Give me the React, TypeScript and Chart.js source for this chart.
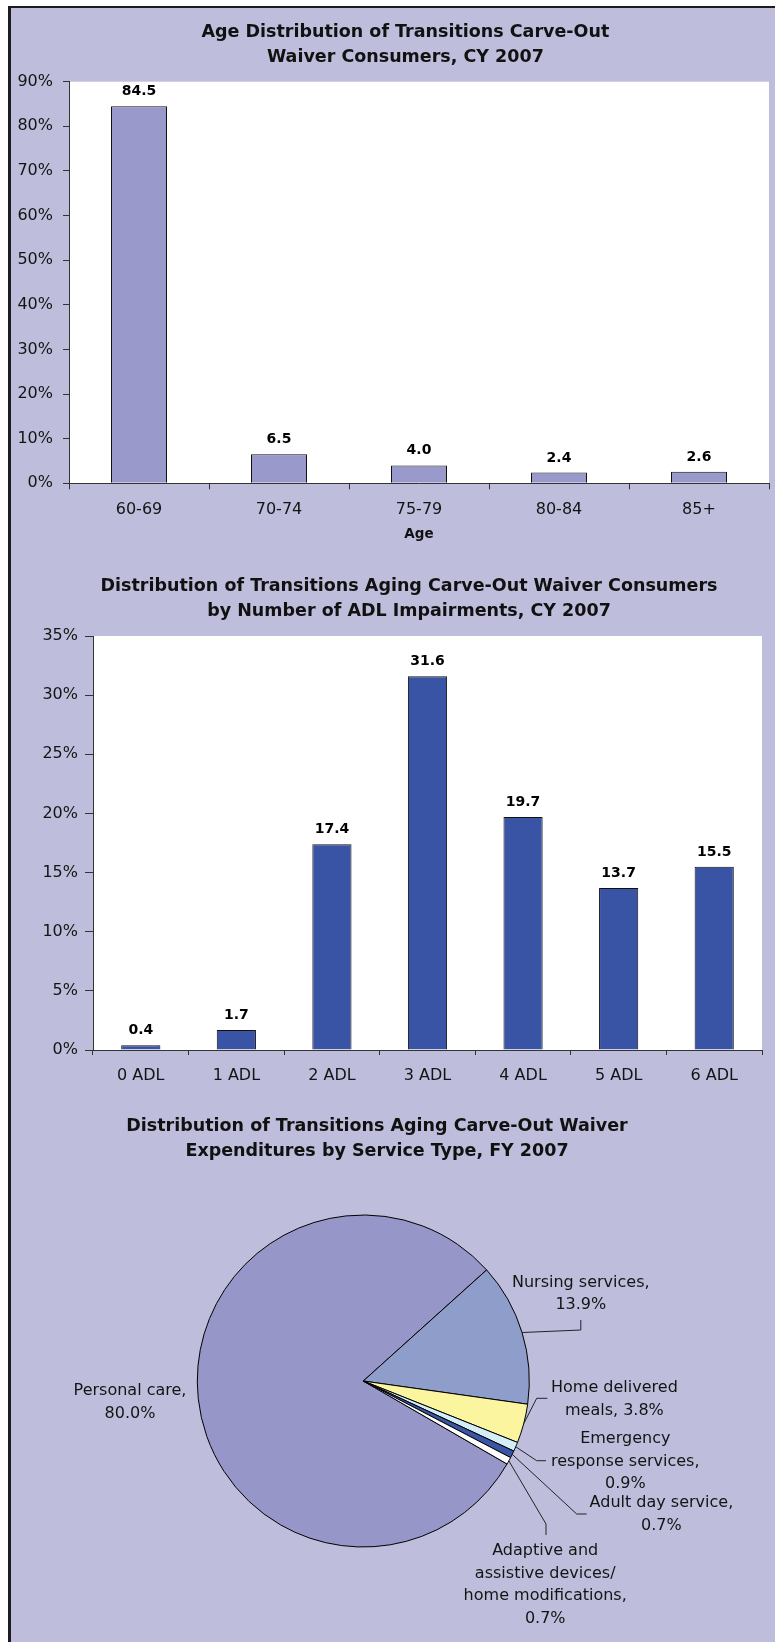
import React, { useEffect, useRef } from 'react';
import { Chart, registerables } from 'chart.js';

Chart.register(...registerables);

const FONT = "'DejaVu Sans', Verdana, sans-serif";
const BG = '#BEBEDC';
const AXIS = '#333333';
const TEXT = '#141414';

// ---------- Chart 1: age distribution ----------
const ageTitle = ['Age Distribution of Transitions Carve-Out', 'Waiver Consumers, CY 2007'];
const ageCategories = ['60-69', '70-74', '75-79', '80-84', '85+'];
const ageValues = [84.5, 6.5, 4.0, 2.4, 2.6];
const ageAxisMax = 90;
const ageAxisStep = 10;
const ageAxisTitle = 'Age';

// ---------- Chart 2: ADL impairments ----------
const adlTitle = [
  'Distribution of Transitions Aging Carve-Out Waiver Consumers',
  'by Number of ADL Impairments, CY 2007',
];
const adlCategories = ['0 ADL', '1 ADL', '2 ADL', '3 ADL', '4 ADL', '5 ADL', '6 ADL'];
const adlValues = [0.4, 1.7, 17.4, 31.6, 19.7, 13.7, 15.5];
const adlAxisMax = 35;
const adlAxisStep = 5;

// ---------- Chart 3: expenditures by service type ----------
const pieTitle = [
  'Distribution of Transitions Aging Carve-Out Waiver',
  'Expenditures by Service Type, FY 2007',
];
const serviceTypes = [
  'Personal care',
  'Nursing services',
  'Home delivered meals',
  'Emergency response services',
  'Adult day service',
  'Adaptive and assistive devices/home modifications',
];
const serviceShares = [80.0, 13.9, 3.8, 0.9, 0.7, 0.7];
const serviceLabelLines = [
  ['Personal care,', '{v}'],
  ['Nursing services,', '{v}'],
  ['Home delivered', 'meals, {v}'],
  ['Emergency', 'response services,', '{v}'],
  ['Adult day service,', '{v}'],
  ['Adaptive and', 'assistive devices/', 'home modifications,', '{v}'],
];

// styles
const ageBarColor = '#9999CC';
const adlBarColor = '#3A54A5';
const serviceColors = ['#9696C8', '#8F9DCA', '#FBF59F', '#D3EEF6', '#3A54A6', '#FFFFFF'];

// label placement for the pie (offsets from the pie centre, px)
const pieLabelLayout: { text: [number, number]; leader: [number, number][] | null }[] = [
  { text: [-233.3, 10], leader: null },
  { text: [217.5, -98.3], leader: [[217.5, -51], [217.5, -61]] },
  { text: [251.1, 7.3], leader: [[173.4, 17.3], [184, 17.3]] },
  { text: [262, 58.3], leader: [[173.4, 79.7], [182.7, 79.7]] },
  { text: [298.1, 122.3], leader: [[213.4, 133], [223.4, 133]] },
  { text: [181.9, 170], leader: [[182.7, 143], [182.7, 154]] },
];

const plotBackground = {
  id: 'plotBackground',
  beforeDraw(chart: any) {
    const { ctx, chartArea: a } = chart;
    ctx.save();
    ctx.fillStyle = '#FFFFFF';
    ctx.fillRect(a.left, a.top, a.right - a.left, a.bottom - a.top);
    ctx.restore();
  },
};

const barValueLabels = {
  id: 'barValueLabels',
  afterDatasetsDraw(chart: any) {
    const ctx = chart.ctx;
    const meta = chart.getDatasetMeta(0);
    const values = chart.data.datasets[0].data;
    ctx.save();
    ctx.font = `bold 14px ${FONT}`;
    ctx.fillStyle = '#000';
    ctx.textAlign = 'center';
    ctx.textBaseline = 'alphabetic';
    meta.data.forEach((bar: any, i: number) => {
      ctx.fillText(Number(values[i]).toFixed(1), bar.x, bar.y - 11);
    });
    ctx.restore();
  },
};

const pieLabels = {
  id: 'pieLabels',
  afterDatasetsDraw(chart: any) {
    const ctx = chart.ctx;
    const meta = chart.getDatasetMeta(0);
    const values = chart.data.datasets[0].data;
    ctx.save();
    ctx.font = `16px ${FONT}`;
    ctx.fillStyle = TEXT;
    ctx.textAlign = 'center';
    ctx.textBaseline = 'middle';
    ctx.strokeStyle = '#222';
    ctx.lineWidth = 1;
    meta.data.forEach((arc: any, i: number) => {
      const { x, y, startAngle, endAngle, outerRadius } = arc.getProps(
        ['x', 'y', 'startAngle', 'endAngle', 'outerRadius'],
        true
      );
      const mid = (startAngle + endAngle) / 2;
      const ex = x + outerRadius * Math.cos(mid);
      const ey = y + outerRadius * Math.sin(mid);
      const lay = pieLabelLayout[i];
      if (lay.leader) {
        ctx.beginPath();
        ctx.moveTo(ex, ey);
        lay.leader.forEach(([dx, dy]) => ctx.lineTo(x + dx, y + dy));
        ctx.stroke();
      }
      const v = Number(values[i]).toFixed(1) + '%';
      serviceLabelLines[i].forEach((s, k) => {
        ctx.fillText(s.replace('{v}', v), x + lay.text[0], y + lay.text[1] + k * 22.5);
      });
    });
    ctx.restore();
  },
};

function barConfig(p: any): any {
  return {
    type: 'bar',
    data: {
      labels: p.labels,
      datasets: [
        {
          data: p.values,
          backgroundColor: p.color,
          borderColor: '#111',
          borderWidth: 1,
          barPercentage: p.barPct,
          categoryPercentage: 1,
        },
      ],
    },
    options: {
      responsive: false,
      animation: false,
      events: [],
      layout: { padding: { left: 0, right: p.padRight, top: p.padTop, bottom: 0 } },
      plugins: {
        legend: { display: false },
        tooltip: { enabled: false },
        title: { display: false },
      },
      scales: {
        x: {
          grid: {
            display: true,
            drawOnChartArea: false,
            drawTicks: true,
            tickLength: p.xTickLen,
            color: AXIS,
            offset: true,
          },
          border: { display: true, color: AXIS, width: 1 },
          ticks: {
            color: TEXT,
            font: { family: FONT, size: 16 },
            padding: p.xTickPad,
            maxRotation: 0,
            autoSkip: false,
          },
          title: p.xTitle
            ? {
                display: true,
                text: p.xTitle,
                color: '#111',
                font: { family: FONT, size: 13.5, weight: 'bold' },
                padding: { top: 0, bottom: p.xTitlePadBottom },
              }
            : { display: false },
          afterFit: (s: any) => {
            s.height = p.xHeight;
          },
        },
        y: {
          min: 0,
          max: p.max,
          ticks: {
            stepSize: p.step,
            callback: (v: any) => v + '%',
            color: TEXT,
            font: { family: FONT, size: 16 },
            padding: p.yTickPad,
          },
          grid: {
            display: true,
            drawOnChartArea: false,
            drawTicks: true,
            tickLength: p.yTickLen,
            color: AXIS,
          },
          border: { display: true, color: AXIS, width: 1 },
          afterFit: (s: any) => {
            s.width = p.yWidth;
          },
        },
      },
    },
    plugins: [plotBackground, barValueLabels],
  };
}

const titleStyle = (left: number, top: number): React.CSSProperties => ({
  position: 'absolute',
  left,
  top,
  width: 700,
  textAlign: 'center',
  fontFamily: FONT,
  fontWeight: 'bold',
  fontSize: 17.5,
  lineHeight: '25px',
  color: '#111',
  whiteSpace: 'nowrap',
});

export default function App() {
  const c1 = useRef<HTMLCanvasElement>(null);
  const c2 = useRef<HTMLCanvasElement>(null);
  const c3 = useRef<HTMLCanvasElement>(null);

  useEffect(() => {
    Chart.defaults.font.family = FONT;
    const charts: Chart[] = [];
    charts.push(
      new Chart(
        c1.current as HTMLCanvasElement,
        barConfig({
          labels: ageCategories,
          values: ageValues,
          color: ageBarColor,
          barPct: 0.4,
          padTop: 73.7,
          padRight: 6,
          yWidth: 58,
          xHeight: 67.7,
          max: ageAxisMax,
          step: ageAxisStep,
          yTickLen: 6,
          yTickPad: 10,
          xTickLen: 6,
          xTickPad: 11,
          xTitle: ageAxisTitle,
          xTitlePadBottom: 8.9,
        })
      )
    );
    charts.push(
      new Chart(
        c2.current as HTMLCanvasElement,
        barConfig({
          labels: adlCategories,
          values: adlValues,
          color: adlBarColor,
          barPct: 0.41,
          padTop: 85,
          padRight: 13,
          yWidth: 82,
          xHeight: 45,
          max: adlAxisMax,
          step: adlAxisStep,
          yTickLen: 8,
          yTickPad: 7,
          xTickLen: 5,
          xTickPad: 11.4,
          xTitle: null,
        })
      )
    );
    charts.push(
      new Chart(c3.current as HTMLCanvasElement, {
        type: 'pie',
        data: {
          labels: serviceTypes,
          datasets: [
            {
              data: serviceShares,
              backgroundColor: serviceColors,
              borderColor: '#000',
              borderWidth: 1,
            },
          ],
        },
        options: {
          responsive: false,
          animation: false,
          events: [],
          rotation: 120,
          layout: { padding: { left: 185.8, right: 245.2, top: 119.5, bottom: 94.5 } },
          plugins: {
            legend: { display: false },
            tooltip: { enabled: false },
            title: { display: false },
          },
        } as any,
        plugins: [pieLabels],
      })
    );
    return () => charts.forEach((c) => c.destroy());
  }, []);

  return (
    <div
      style={{
        position: 'absolute',
        left: 8,
        top: 6,
        width: 767,
        height: 1636,
        boxSizing: 'border-box',
        background: BG,
        borderLeft: '3px solid #1c1c1c',
        borderTop: '2px solid #1c1c1c',
        overflow: 'hidden',
      }}
    >
      <canvas ref={c1} width={764} height={543} style={{ position: 'absolute', left: 0, top: 0 }} />
      <canvas ref={c2} width={764} height={544} style={{ position: 'absolute', left: 0, top: 543 }} />
      <canvas ref={c3} width={764} height={547} style={{ position: 'absolute', left: 0, top: 1087 }} />
      <div style={titleStyle(44.4, 11.2)}>
        {ageTitle.map((l) => (
          <div key={l}>{l}</div>
        ))}
      </div>
      <div style={titleStyle(48, 565.2)}>
        {adlTitle.map((l) => (
          <div key={l}>{l}</div>
        ))}
      </div>
      <div style={titleStyle(16, 1104.5)}>
        {pieTitle.map((l) => (
          <div key={l}>{l}</div>
        ))}
      </div>
    </div>
  );
}
